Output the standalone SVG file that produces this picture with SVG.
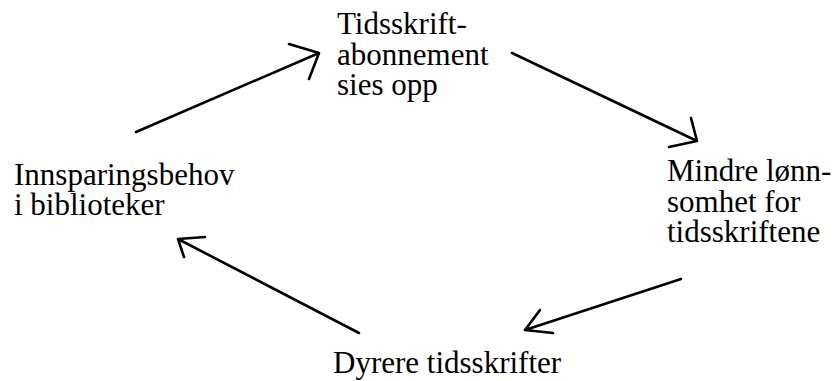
<svg xmlns="http://www.w3.org/2000/svg" width="834" height="381" viewBox="0 0 834 381">
<style>
text{font-family:"Liberation Serif","Times New Roman",serif;font-size:31px;fill:#000}
.c{fill:none;stroke:#000;stroke-width:2.6;stroke-linecap:round;stroke-linejoin:round}
</style>
<rect width="834" height="381" fill="#fff"/>
<g id="connectors">
<path class="c" d="M136,132 L319,53 M289,44 L319,53 L309,79"/>
<path class="c" d="M512,53 L697,141 M691,118 L697,141 L669,147"/>
<path class="c" d="M681,279 L525,330 M540,310 L525,330 L553,333"/>
<path class="c" d="M359,333 L178,239 M205,237 L178,239 L184,257"/>
</g>
<g id="node-top"><text x="337" y="34">Tidsskrift-</text><text x="337" y="65">abonnement</text><text x="337" y="95">sies opp</text></g>
<g id="node-right"><text x="667" y="181">Mindre lønn-</text><text x="667" y="212">somhet for</text><text x="667" y="242">tidsskriftene</text></g>
<g id="node-bottom"><text x="333" y="373">Dyrere tidsskrifter</text></g>
<g id="node-left"><text x="14" y="185">Innsparingsbehov</text><text x="14" y="215">i biblioteker</text></g>
</svg>
